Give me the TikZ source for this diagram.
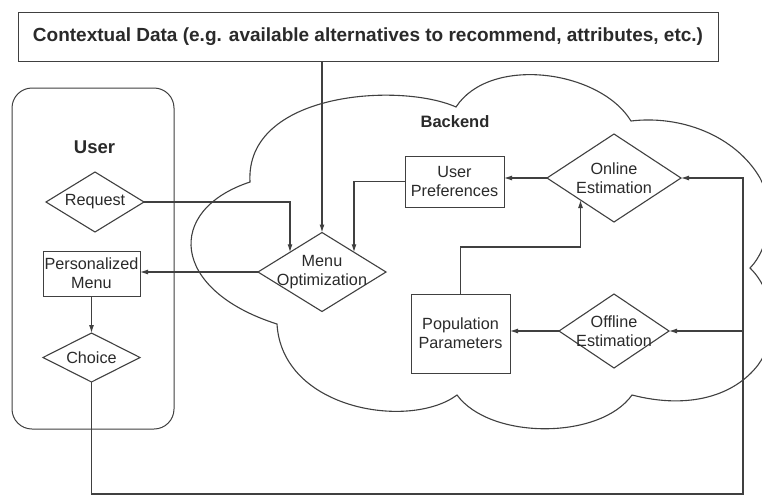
\documentclass[tikz,border=0pt]{standalone}
\usepackage{fontspec}
\setmainfont{Liberation Sans}
\usetikzlibrary{arrows.meta, shapes.geometric}
\definecolor{inkgray}{HTML}{2A2A2A}
\definecolor{linegray}{HTML}{404040}

\begin{document}
\begin{tikzpicture}[x=1pt, y=-1pt, >={Latex[length=8pt, width=5pt]}, line width=1.1pt,
  box/.style={draw=linegray, line width=0.85pt, rectangle, inner sep=0pt, outer sep=0pt,
    align=center, text=inkgray, font=\fontsize{16.2}{19}\selectfont},
  decision/.style={draw=linegray, diamond, inner sep=0pt, outer sep=0pt},
  inlabel/.style={align=center, text=inkgray, inner sep=0pt,
    font=\fontsize{16.2}{19}\selectfont},
  heading/.style={text=inkgray, font=\bfseries\fontsize{16.5}{19}\selectfont},
  flow/.style={->, draw=linegray, line width=1.1pt}]

% Canvas (pixel coordinates, y grows downwards)
\clip (0,0) rectangle (762,496);
\fill[white] (0,0) rectangle (762,496);

% Backend cloud
\draw[linegray, line width=1.1pt] (456,107)
  .. controls (400,82) and (245,92) .. (250,182)
  .. controls (165,210) and (170,290) .. (277,324)
  .. controls (282,410) and (410,430) .. (457,395)
  .. controls (490,440) and (600,440) .. (632,395)
  .. controls (690,410) and (735,395) .. (758,365)
  .. controls (775,343) and (778,295) .. (750,268)
  .. controls (770,248) and (775,205) .. (760,178)
  .. controls (735,135) and (680,115) .. (631,121)
  .. controls (600,70) and (490,55) .. (456,107) -- cycle;
\node[heading] (backendlbl) at (455,122) {Backend};

% Contextual data
\node[box, line width=1pt, minimum width=700pt, minimum height=49pt,
  font=\bfseries\fontsize{19}{22}\selectfont] (context) at (368,36.5)
  {Contextual Data (e.g. available alternatives to recommend, attributes, etc.)};

% User side
\node[draw=linegray, line width=1pt, rounded corners=20pt, inner sep=0pt,
  minimum width=162pt, minimum height=341pt] (userpane) at (93,258.5) {};
\node[heading, font=\bfseries\fontsize{18.5}{21}\selectfont] (userlbl) at (94.5,147) {User};
\node[decision, minimum width=98pt, minimum height=60pt,
  label={[inlabel]center:Request}] (request) at (95,202) {};
\node[box, minimum width=97pt, minimum height=45pt] (persmenu) at (91.5,273.5)
  {Personalized\\Menu};
\node[decision, minimum width=97pt, minimum height=49pt,
  label={[inlabel]center:Choice}] (choice) at (91.5,357.5) {};

% Backend nodes
\node[decision, minimum width=128pt, minimum height=79pt,
  label={[inlabel]center:Menu\\Optimization}] (menuopt) at (322,272) {};
\node[box, minimum width=99pt, minimum height=51pt] (userpref) at (454.5,181.5)
  {User\\Preferences};
\node[decision, minimum width=134pt, minimum height=88pt,
  label={[inlabel]center:Online\\Estimation}] (online) at (614,178) {};
\node[box, minimum width=99pt, minimum height=79pt] (poppar) at (460.5,333.5)
  {Population\\Parameters};
\node[decision, minimum width=110pt, minimum height=74pt,
  label={[inlabel]center:Offline\\Estimation}] (offline) at (614,331) {};

% Connectors
\draw[flow] (context.south -| menuopt.north) -- (menuopt.north);
\draw[flow] (request.east) -| (menuopt.north west);
\draw[flow] (userpref.west) -| (menuopt.north east);
\draw[flow] (menuopt.west) -- (menuopt.west -| persmenu.east);
\draw[flow] (persmenu.south) -- (choice.north);
\draw[flow] (online.west) -- (online.west -| userpref.east);
\draw[flow] (offline.west) -- (offline.west -| poppar.east);
\draw[flow] (poppar.north) -- ++(0,-47) -| (online.south west);

% Feedback loop from the choice back to estimation
\coordinate (feedback) at (743,494);
\draw[flow] (choice.south) |- (feedback) |- (online.east);
\draw[flow] (feedback |- offline.east) -- (offline.east);

\end{tikzpicture}
\end{document}
